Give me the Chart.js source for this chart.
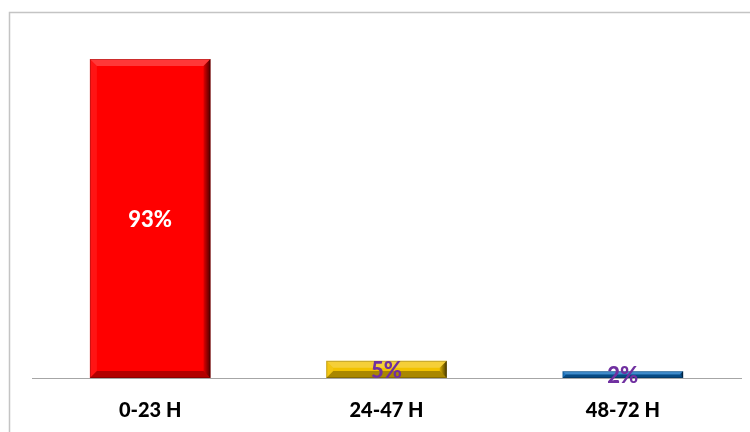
<!DOCTYPE html>
<html>
<head>
<meta charset="utf-8">
<script src="https://cdn.jsdelivr.net/npm/chart.js@4/dist/chart.umd.min.js"></script>
<style>
  html, body { margin: 0; padding: 0; background: #fff; }
  #wrap { width: 750px; height: 432px; position: relative; }
</style>
</head>
<body>
<div id="wrap"><canvas id="chart"></canvas></div>
<script>
const categories = ["0-23 H", "24-47 H", "48-72 H"];
const shares = [93, 5, 2];
const barColors = ["#ff0000", "#f2c200", "#0a6bbd"];
const labelColors = ["#ffffff", "#7030a0", "#7030a0"];

// thin frame around the chart (right and bottom run off the page)
const framePlugin = {
    id: "frame",
    beforeDraw(chart) {
        const ctx = chart.ctx;
        ctx.save();
        ctx.strokeStyle = "#c4c4c4";
        ctx.lineWidth = 1.5;
        ctx.beginPath();
        ctx.moveTo(9.5, chart.height);
        ctx.lineTo(9.5, 12.5);
        ctx.lineTo(chart.width, 12.5);
        ctx.stroke();
        ctx.restore();
    },
};

function fillPoly(ctx, pts, style) {
    ctx.beginPath();
    ctx.moveTo(pts[0][0], pts[0][1]);
    for (let i = 1; i < pts.length; i++) ctx.lineTo(pts[i][0], pts[i][1]);
    ctx.closePath();
    ctx.fillStyle = style;
    ctx.fill();
}

// bevelled edges on each bar, then the value label in the middle
const bevelPlugin = {
    id: "bevel",
    afterDatasetsDraw(chart) {
        const ctx = chart.ctx;
        const meta = chart.getDatasetMeta(0);
        meta.data.forEach((bar, i) => {
            const p = bar.getProps(["x", "y", "base", "width"], true);
            const l = p.x - p.width / 2;
            const r = p.x + p.width / 2;
            const t = p.y;
            const b = p.base;
            const s = Math.min(7, (b - t) / 2);
            ctx.save();
            fillPoly(ctx, [[l, t], [r, t], [r - s, t + s], [l + s, t + s]], "rgba(255,255,255,0.22)");
            fillPoly(ctx, [[l, t], [l + s, t + s], [l + s, b - s], [l, b]], "rgba(255,255,255,0.08)");
            const g = ctx.createLinearGradient(r - s, 0, r, 0);
            g.addColorStop(0, "rgba(0,0,0,0.12)");
            g.addColorStop(1, "rgba(0,0,0,0.7)");
            fillPoly(ctx, [[r, t], [r, b], [r - s, b - s], [r - s, t + s]], g);
            fillPoly(ctx, [[l, b], [l + s, b - s], [r - s, b - s], [r, b]], "rgba(0,0,0,0.30)");
            ctx.strokeStyle = "rgba(0,0,0,0.2)";
            ctx.lineWidth = 1;
            ctx.strokeRect(l + 0.5, t + 0.5, r - l - 1, b - t - 1);

            ctx.font = "900 22px Lato";
            ctx.fillStyle = labelColors[i];
            ctx.textAlign = "center";
            ctx.textBaseline = "middle";
            ctx.fillText(shares[i] + "%", p.x, (t + b) / 2 + 1);
            ctx.restore();
        });
    },
};

new Chart(document.getElementById("chart"), {
    type: "bar",
    data: {
        labels: categories,
        datasets: [{
            data: shares,
            backgroundColor: barColors,
            borderWidth: 0,
            barPercentage: 0.51,
            categoryPercentage: 1,
        }],
    },
    options: {
        responsive: true,
        maintainAspectRatio: false,
        animation: false,
        layout: { padding: { left: 32, right: 9, top: 35, bottom: 0 } },
        plugins: {
            legend: { display: false },
            tooltip: { enabled: false },
        },
        scales: {
            y: { display: false, min: 0, max: 100 },
            x: {
                grid: { display: false, drawTicks: false },
                border: { color: "#a6a6a6", width: 1 },
                ticks: {
                    color: "#000",
                    padding: 21,
                    font: { family: "Lato", size: 20, weight: 900 },
                },
                afterFit(scale) { scale.height = 54; },
            },
        },
    },
    plugins: [framePlugin, bevelPlugin],
});
</script>
</body>
</html>
